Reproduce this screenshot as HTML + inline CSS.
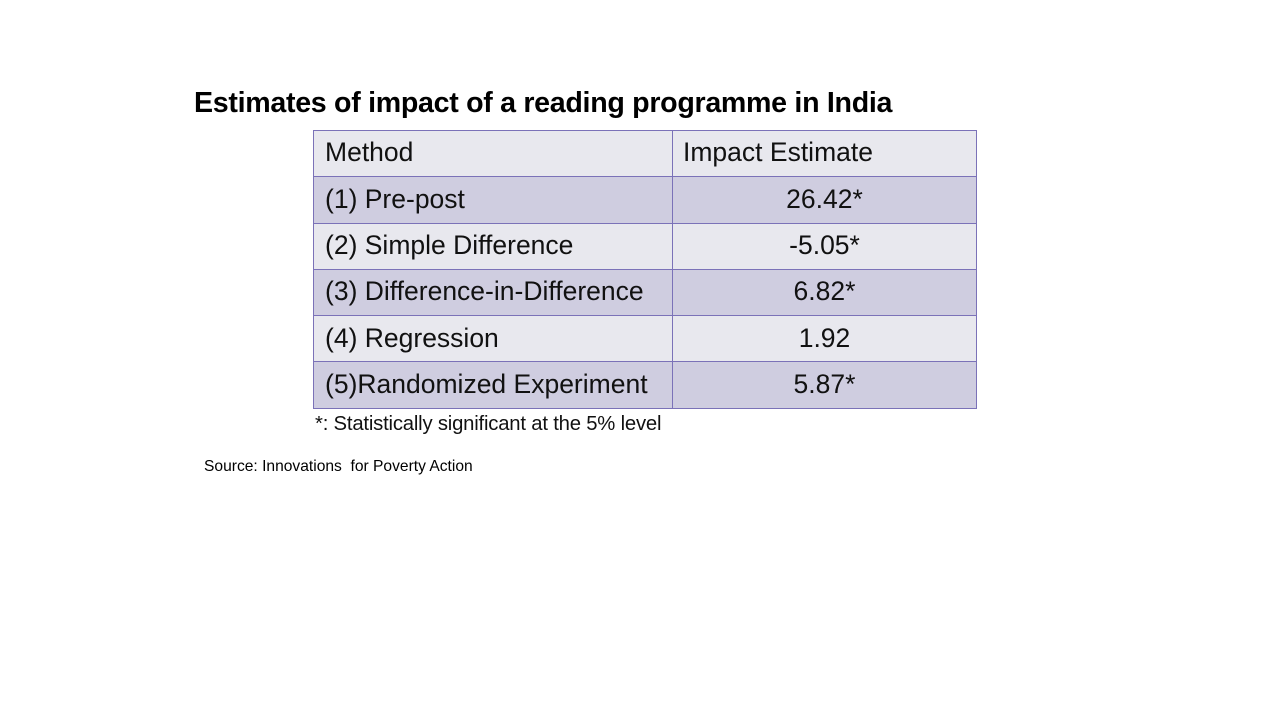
<!DOCTYPE html>
<html><head><style>
body{margin:0;width:1280px;height:720px;background:#fff;position:relative;font-family:"Liberation Sans",sans-serif;overflow:hidden}
.t{position:absolute;left:194px;top:87px;font-size:28.6px;font-weight:bold;color:#000;letter-spacing:-0.3px}
table{position:absolute;left:313px;top:130px;border-collapse:collapse}
td{border:1.5px solid #7b72b8;height:46.3px;box-sizing:border-box;padding:0 0 2px 11px;font-size:26.5px;color:#111;line-height:1}
td.c1{width:359px}td.c2{width:304px;padding:0 0 2px 10px}
tr.l td{background:#e8e8ee}tr.d td{background:#cfcde0}
td.n{text-align:center;padding:0 0 2px 0}
.f{position:absolute;left:315px;top:413px;font-size:20.3px;color:#111;letter-spacing:-0.2px}
.s{position:absolute;left:204px;top:458px;font-size:15.6px;color:#000}
</style></head><body>
<div class="t">Estimates of impact of a reading programme in India</div>
<table>
<tr class="l"><td class="c1">Method</td><td class="c2">Impact Estimate</td></tr>
<tr class="d"><td>(1) Pre-post</td><td class="n">26.42*</td></tr>
<tr class="l"><td>(2) Simple Difference</td><td class="n">-5.05*</td></tr>
<tr class="d"><td>(3) Difference-in-Difference</td><td class="n">6.82*</td></tr>
<tr class="l"><td>(4) Regression</td><td class="n">1.92</td></tr>
<tr class="d"><td>(5)Randomized Experiment</td><td class="n">5.87*</td></tr>
</table>
<div class="f">*: Statistically significant at the 5% level</div>
<div class="s">Source: Innovations &nbsp;for Poverty Action</div>
</body></html>
